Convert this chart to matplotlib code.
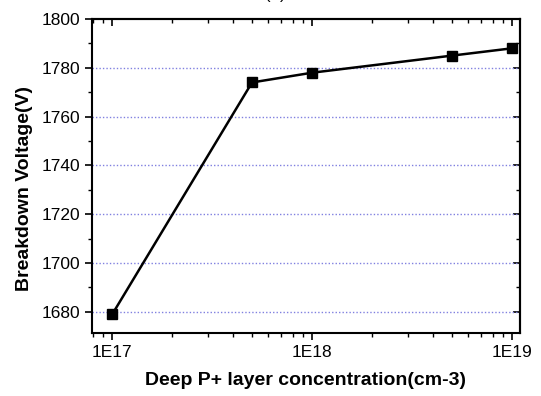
import numpy as np
import matplotlib
matplotlib.use("Agg")
import matplotlib.pyplot as plt
from matplotlib.ticker import FixedLocator, MultipleLocator, NullFormatter

plt.rcParams['font.family'] = ['Liberation Sans', 'DejaVu Sans']

# data
concentration = [1e17, 5e17, 1e18, 5e18, 1e19]
breakdown_v = [1679, 1774, 1778, 1785, 1788]
x_ticks = [1e17, 1e18, 1e19]
x_tick_labels = ["1E17", "1E18", "1E19"]
y_ticks = [1680, 1700, 1720, 1740, 1760, 1780, 1800]

fig = plt.figure(figsize=(5.41, 3.96), dpi=100)
ax = fig.add_axes([0.170, 0.159, 0.791, 0.793])

ax.plot(concentration, breakdown_v, color="black", lw=1.8, marker="s",
        markersize=7, zorder=3)

ax.set_xscale("log")
ax.set_xlim(10 ** 16.8985, 10 ** 19.0385)
ax.set_ylim(1671.3, 1800)

minor_x = [m * 10 ** e for e in (16, 17, 18) for m in range(2, 10)]

ax.set_xticks(x_ticks)
ax.set_xticklabels(x_tick_labels)
ax.xaxis.set_minor_locator(FixedLocator(minor_x))
ax.xaxis.set_minor_formatter(NullFormatter())
ax.set_yticks(y_ticks)
ax.yaxis.set_minor_locator(MultipleLocator(10))

# dotted grid lines at major y ticks (not at the top edge)
for yv in y_ticks[:-1]:
    ax.axhline(yv, color="#8080e0", lw=1.0, ls=(0, (1, 1.5)), zorder=1)

ax.tick_params(axis="both", which="major", labelsize=12.5, width=1.2, length=5)
ax.tick_params(axis="both", which="minor", width=1.0, length=3)
ax.tick_params(axis="x", which="both", direction="out", top=False)
ax.tick_params(axis="y", which="both", direction="out", right=False)

# mirrored ticks on top and right, pointing inward
sec_x = ax.secondary_xaxis("top")
sec_x.set_xticks(x_ticks)
sec_x.xaxis.set_minor_locator(FixedLocator(minor_x))
sec_x.xaxis.set_minor_formatter(NullFormatter())
sec_x.tick_params(which="both", direction="in", labeltop=False)
sec_x.tick_params(which="major", length=5, width=1.2)
sec_x.tick_params(which="minor", length=3, width=1.0)
sec_x.spines["top"].set_linewidth(1.5)

sec_y = ax.secondary_yaxis("right")
sec_y.set_yticks(y_ticks)
sec_y.yaxis.set_minor_locator(MultipleLocator(10))
sec_y.tick_params(which="both", direction="in", labelright=False)
sec_y.tick_params(which="major", length=5, width=1.2)
sec_y.tick_params(which="minor", length=3, width=1.0)
sec_y.spines["right"].set_linewidth(1.5)

for s in ax.spines.values():
    s.set_linewidth(1.5)

ax.set_xlabel("Deep P+ layer concentration(cm-3)", fontsize=14,
              fontweight="bold", labelpad=9)
ax.set_ylabel("Breakdown Voltage(V)", fontsize=14, fontweight="bold")
ax.yaxis.set_label_coords(-0.138, 0.459)

fig.text(0.508, 0.995, "(a)", ha="center", va="bottom", fontsize=12)

fig.savefig("out.png", dpi=100)
